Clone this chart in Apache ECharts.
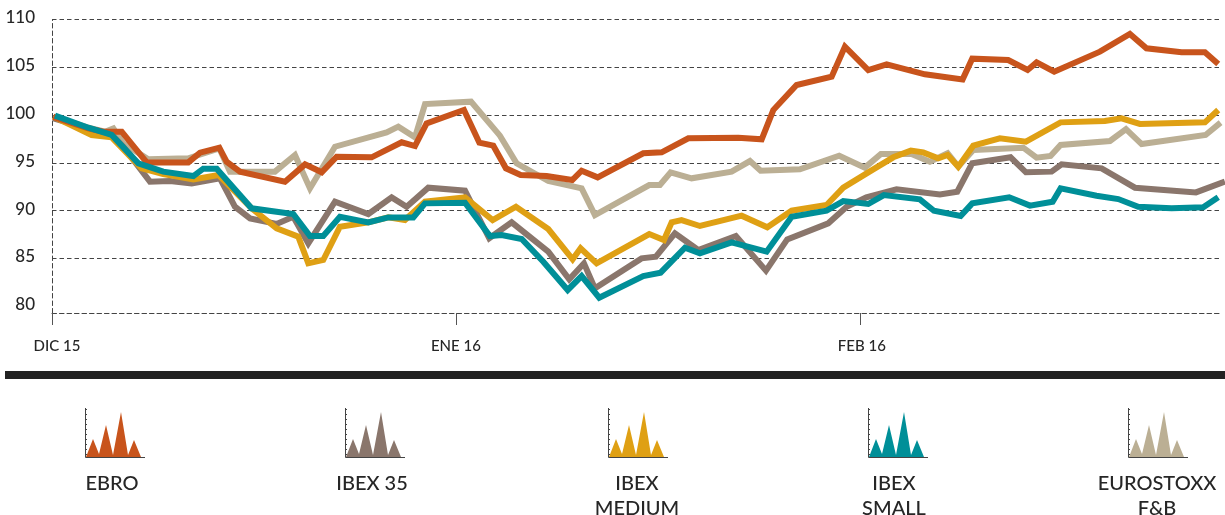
<!DOCTYPE html>
<html><head><meta charset="utf-8">
<style>html,body{margin:0;padding:0;background:#fff}#c{width:1225px;height:515px}</style>
<script src="https://cdn.jsdelivr.net/npm/echarts@6/dist/echarts.min.js"></script>
</head><body><div id="c"></div>
<script>
const yGridValues = [85, 90, 95, 100, 105, 110];
const yLabelValues = [80, 85, 90, 95, 100, 105, 110];
const xTickDays = [0, 31, 62];
const xTickLabels = ['DIC 15', 'ENE 16', 'FEB 16'];

const ebroDays = [0.1,2.79,3.94,5.35,7.27,10.46,11.36,12.84,13.4,14.43,17.88,19.42,20.7,21.85,24.53,26.84,27.86,28.75,31.62,32.8,33.87,34.84,35.97,37.96,39.93,40.65,41.88,45.38,46.79,48.84,52.67,54.47,55.36,57.15,59.84,60.86,62.65,64.06,67,69.89,70.63,73.39,74.88,75.57,76.92,80.43,82.73,84,86.7,88.49,89.51];
const ebroValues = [99.8,98.6,98.25,98.25,95.04,95.04,96.06,96.58,95.11,94.07,93.02,94.83,94,95.64,95.57,97.14,96.75,99.13,100.52,97.1,96.79,94.42,93.72,93.61,93.19,94.17,93.47,95.99,96.09,97.56,97.63,97.45,100.52,103.14,104.01,107.16,104.71,105.31,104.26,103.73,105.9,105.76,104.71,105.51,104.54,106.63,108.48,106.98,106.56,106.56,105.34];

const ibex35Days = [0.1,2.79,4.58,5.47,7.52,9.06,10.72,12.89,14.04,15.2,17.24,18.52,19.67,21.72,24.28,26.07,27.22,28.88,31.7,33.56,35.28,38.09,39.7,40.83,41.67,45.25,46.35,47.81,49.6,52.49,54.8,56.43,59.58,60.99,62.5,64.82,68.15,69.48,70.63,73.57,74.75,76.72,77.49,80.56,83.12,87.8,90.02];
const ibex35Values = [99.65,98.6,97.91,96.68,93.02,93.09,92.84,93.37,90.4,89.18,88.59,89.35,86.56,90.92,89.63,91.38,90.4,92.39,92.08,87.09,88.76,85.69,82.79,84.47,81.85,84.99,85.17,87.61,85.86,87.33,83.7,86.98,88.66,90.4,91.38,92.22,91.69,91.97,94.94,95.57,94,94.07,94.83,94.42,92.39,91.9,93.02];

const ibexMediumDays = [0.1,3.04,4.58,6.88,8.54,10.85,12.77,15.32,17.24,18.9,19.67,20.82,22.1,24.28,25.81,27.09,28.63,31.7,33.82,35.61,38.09,39.96,40.57,41.8,45.84,46.97,47.56,48.32,49.73,52.93,54.9,56.77,59.45,60.73,63.03,64.57,65.92,66.87,68.02,68.74,69.56,70.71,72.75,74.75,77.41,80.81,82.09,83.5,88.49,89.51];
const ibexMediumValues = [99.83,97.91,97.66,94.42,93.82,93.26,93.72,90.23,88.13,87.26,84.47,84.82,88.31,88.76,89.28,89,90.92,91.38,89,90.4,88.06,84.89,86.04,84.47,87.54,86.91,88.76,89,88.38,89.46,88.24,89.98,90.58,92.39,94.31,95.57,96.27,96.09,95.46,95.81,94.59,96.79,97.56,97.21,99.23,99.37,99.65,99.06,99.23,100.52];

const ibexSmallDays = [0.23,2.79,4.58,6.63,8.54,10.85,11.61,12.64,15.32,18.52,19.8,20.82,22.1,24.28,25.81,27.73,28.63,31.7,33.61,34.51,36.05,37.71,39.58,40.65,42,45.38,46.71,48.58,49.73,52.16,54.85,56.77,59.45,60.73,62.65,63.85,66.61,67.69,69.74,70.63,73.47,75.06,76.8,77.41,80.17,81.84,83.37,85.93,88.36,89.51];
const ibexSmallValues = [99.93,98.67,97.91,94.94,94.07,93.61,94.38,94.38,90.23,89.63,87.33,87.33,89.35,88.76,89.28,89.28,90.75,90.82,87.33,87.43,87.02,84.64,81.68,83.14,80.87,83.14,83.49,86.11,85.51,86.67,85.69,89.35,89.98,90.99,90.68,91.62,91.17,89.98,89.42,90.75,91.38,90.51,90.92,92.32,91.55,91.2,90.4,90.23,90.33,91.38];

const eurostoxxDays = [0.1,2.79,4.07,4.71,5.47,7.39,10.46,12.84,13.66,17.11,18.65,19.8,21.72,25.68,26.58,27.86,28.63,32.16,34.38,35.66,38.09,40.65,41.67,45.84,46.66,47.48,49.09,52.16,53.57,54.39,57.4,60.42,62.39,63.62,65.97,67.38,68.74,69.56,70.71,74.55,75.57,76.64,77.41,81.2,82.43,83.63,88.54,89.69];
const eurostoxxValues = [99.83,98.67,98.25,98.6,97.03,95.36,95.46,96.51,94.07,94.07,95.81,92.32,96.68,98.18,98.78,97.66,101.15,101.4,97.84,94.94,93.09,92.32,89.53,92.67,92.67,94,93.37,94.07,95.18,94.17,94.31,95.74,94.49,95.92,95.92,95.11,95.99,94.59,96.33,96.58,95.53,95.71,96.86,97.28,98.53,96.96,97.91,99.2];

const seriesNames = ['EBRO', 'IBEX 35', 'IBEX MEDIUM', 'IBEX SMALL', 'EUROSTOXX F&B'];
const legendLines = [['EBRO'], ['IBEX 35'], ['IBEX', 'MEDIUM'], ['IBEX', 'SMALL'], ['EUROSTOXX', 'F&B']];
const colors = ['#C8541C', '#8A766C', '#DFA014', '#008F98', '#BBAF94'];
const pairs = (d, v) => d.map((x, i) => [x, v[i]]);
const allData = [pairs(ebroDays, ebroValues), pairs(ibex35Days, ibex35Values), pairs(ibexMediumDays, ibexMediumValues), pairs(ibexSmallDays, ibexSmallValues), pairs(eurostoxxDays, eurostoxxValues)];
const drawOrder = [4, 1, 2, 0, 3];

const FONT = 'Lato, "Open Sans", sans-serif';
const TXT = '#262626';
const legendX = [85, 345, 608, 868, 1128];
const legendTextX = [112, 372, 637, 894, 1157];
const peak = [[1,49],[8,31],[14,46],[21,17],[28,47],[36,4],[43,47],[49,32],[56,49]];

const graphics = [{ type: 'rect', shape: { x: 5, y: 371, width: 1220, height: 8 }, style: { fill: '#222' }, silent: true }];
seriesNames.forEach((n, i) => {
  const x0 = legendX[i], y0 = 408;
  graphics.push({ type: 'polygon', x: x0, y: y0, shape: { points: peak }, style: { fill: colors[i] }, silent: true });
  graphics.push({ type: 'polyline', x: x0, y: y0, shape: { points: [[0.5,0],[0.5,49.5],[60,49.5]] }, style: { stroke: '#444', lineWidth: 1, fill: 'none' }, silent: true });
  for (let k = 0; k <= 9; k++) {
    graphics.push({ type: 'line', x: x0, y: y0, shape: { x1: 0, y1: k * 5 + 1.5, x2: 2, y2: k * 5 + 1.5 }, style: { stroke: '#444', lineWidth: 1 }, silent: true });
  }
  legendLines[i].forEach((t, j) => graphics.push({
    type: 'text', x: legendTextX[i], y: 484 + j * 25,
    style: { text: t, font: '500 20px ' + FONT, fill: TXT, textAlign: 'center', textVerticalAlign: 'middle' }, silent: true
  }));
});

const xLabelStyle = { color: TXT, fontFamily: FONT, fontSize: 15, fontWeight: 500 };
const chart = echarts.init(document.getElementById('c'), null, { renderer: 'canvas' });
chart.setOption({
  animation: false,
  backgroundColor: '#fff',
  grid: { left: 52, right: 3, top: 19.5, bottom: 202, containLabel: false },
  xAxis: {
    type: 'value', min: 0, max: 89.8,
    axisLine: { show: true, onZero: false, lineStyle: { color: '#444', width: 1, type: [4.5, 3] } },
    axisTick: { show: true, length: 12, customValues: xTickDays, lineStyle: { color: '#555', width: 1 } },
    axisLabel: {
      customValues: xTickDays, margin: 26, ...xLabelStyle,
      formatter: v => { const i = xTickDays.indexOf(v); return '{d' + i + '|' + xTickLabels[i] + '}'; },
      rich: {
        d0: { ...xLabelStyle, padding: [0, 0, 0, 10] },
        d1: { ...xLabelStyle },
        d2: { ...xLabelStyle, padding: [0, 0, 0, 4] }
      }
    },
    splitLine: { show: false }
  },
  yAxis: {
    type: 'value', min: 79.27, max: 110,
    axisLine: { show: true, lineStyle: { color: '#444', width: 1, type: [4.5, 3] } },
    axisTick: { show: false, customValues: yGridValues },
    axisLabel: { customValues: yLabelValues, margin: 17, color: TXT, fontFamily: FONT, fontSize: 17, fontWeight: 500, verticalAlign: 'bottom', lineHeight: 3 },
    splitLine: { show: true, lineStyle: { color: '#444', width: 1, type: [4.5, 3] } }
  },
  series: drawOrder.map(i => ({
    name: seriesNames[i], type: 'line', data: allData[i], symbol: 'none', smooth: false, clip: false,
    lineStyle: { color: colors[i], width: 6, join: 'miter', cap: 'butt' }, itemStyle: { color: colors[i] }
  })),
  graphic: graphics
});
</script></body></html>
